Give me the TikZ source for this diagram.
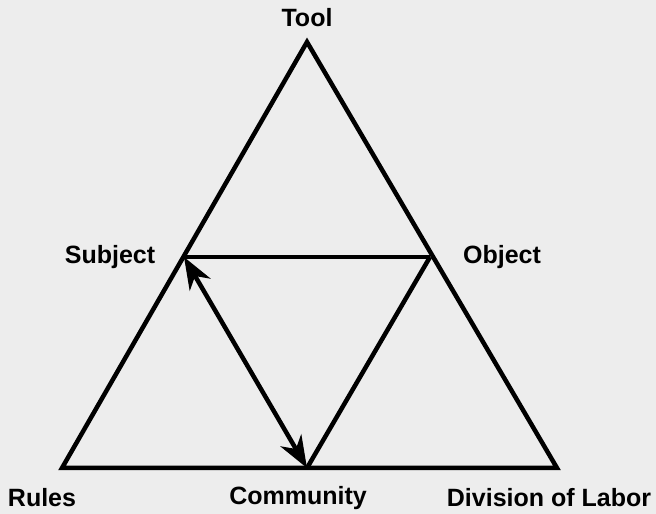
\documentclass[tikz,border=0pt]{standalone}
\usepackage{fontspec}
\setmainfont{Liberation Sans}
\usetikzlibrary{arrows.meta}
\definecolor{scanbg}{HTML}{EDEDED}
\tikzset{%
  actlabel/.style={%
    font=\fontsize{25}{30}\selectfont\bfseries,
    inner sep=0pt
  },
  actedge/.style={line width=4.5pt,draw=black},
  acttwoway/.style={actedge,{Stealth[length=32pt,width=24pt,inset=10pt]}-{Stealth[length=32pt,width=24pt,inset=10pt]}}
}

\begin{document}
\begin{tikzpicture}[x=1pt,y=1pt]
    \fill[scanbg] (0,0) rectangle (656,514);
    \useasboundingbox (0,0) rectangle (656,514);

    \coordinate (tool) at (307,472);
    \coordinate (subject) at (184,257);
    \coordinate (object) at (430,257);
    \coordinate (rules) at (62,46);
    \coordinate (community) at (307,46);
    \coordinate (labor) at (557,46);

    \node[actlabel] (toollab) at (307,496) {Tool};
    \node[actlabel] (subjectlab) at (110,257) {Subject};
    \node[actlabel] (objectlab) at (502,257) {Object};
    \node[actlabel] (ruleslab) at (42,16) {Rules};
    \node[actlabel] (communitylab) at (298,16) {Community};
    \node[actlabel] (laborlab) at (549,16) {Division of Labor};

    \draw[actedge,line join=miter] (tool) -- (rules) -- (labor) -- cycle;
    \draw[actedge] (subject) -- (object);
    \draw[actedge] (object) -- (community);
    \draw[acttwoway] (subject) -- (community);
  \end{tikzpicture}
\end{document}
